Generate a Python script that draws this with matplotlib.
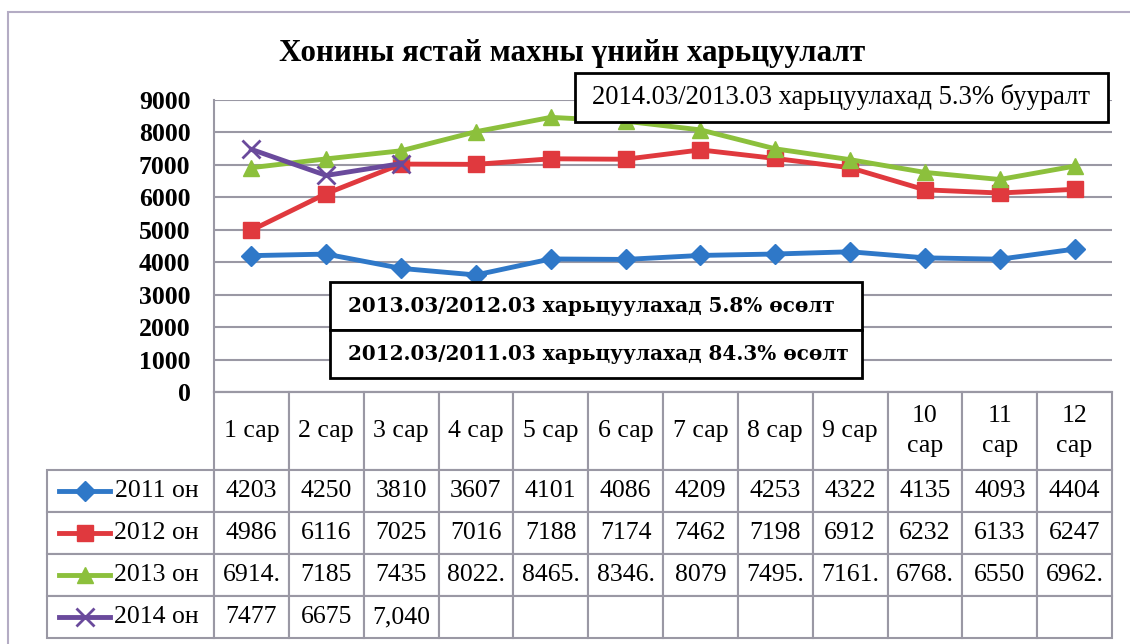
"""
plot.py

Line chart of mutton (bone-in) prices by month, with a data table below.
"""

import matplotlib
matplotlib.use("Agg")
import matplotlib.pyplot as plt
from matplotlib.table import Table
from matplotlib.patches import Rectangle

plt.rcParams['font.family'] = ['Liberation Serif', 'DejaVu Serif']

months = ["1 сар", "2 сар", "3 сар", "4 сар", "5 сар", "6 сар", "7 сар",
          "8 сар", "9 сар", "10\nсар", "11\nсар", "12\nсар"]
years = ["2011 он", "2012 он", "2013 он", "2014 он"]

price_2011 = [4203, 4250, 3810, 3607, 4101, 4086, 4209, 4253, 4322, 4135, 4093, 4404]
price_2012 = [4986, 6116, 7025, 7016, 7188, 7174, 7462, 7198, 6912, 6232, 6133, 6247]
price_2013 = [6914, 7185, 7435, 8022, 8465, 8346, 8079, 7495, 7161, 6768, 6550, 6962]
price_2014 = [7477, 6675, 7040]

# the table in the source shows the 2013 row cut off and 2014 m3 with a comma
table_2013 = ["6914.", "7185", "7435", "8022.", "8465.", "8346.", "8079",
              "7495.", "7161.", "6768.", "6550", "6962."]
table_2014 = ["7477", "6675", "7,040"]

notes = ["2014.03/2013.03 харьцуулахад 5.3% бууралт",
         "2013.03/2012.03 харьцуулахад 5.8% өсөлт",
         "2012.03/2011.03 харьцуулахад 84.3% өсөлт"]

colors = ["#2f78c8", "#e0393e", "#8cc03c", "#6a4a9c"]
markers = ["D", "s", "^", "x"]
msizes = [10, 12, 12, 13]
grid_col = "#9a98a4"

W, H = 1130, 644
fig = plt.figure(figsize=(W / 100, H / 100), dpi=100)


def fx(px):
    return px / W


def fy(py):
    return 1 - py / H


# plot area in pixels
left, right, top, bottom = 214, 1112, 100, 392
pw, ph = right - left, bottom - top
ax = fig.add_axes([fx(left), fy(bottom), fx(pw), fy(top) - fy(bottom)])

series = [price_2011, price_2012, price_2013, price_2014]
for vals, c, m, ms in zip(series, colors, markers, msizes):
    ax.plot(range(len(vals)), vals, color=c, lw=3.5, marker=m, ms=ms,
            mew=2 if m == "x" else 1, mec=c, mfc=c)

ax.set_xlim(-0.5, 11.5)
ax.set_ylim(0, 9000)
ax.set_yticks(range(0, 9001, 1000))
ax.set_xticks([])
ax.tick_params(axis='y', length=0, pad=17, labelsize=18.5)
for lab in ax.get_yticklabels():
    lab.set_fontweight('bold')
ax.yaxis.grid(True, color=grid_col, lw=1.5)
ax.set_axisbelow(True)
for s in ["top", "right"]:
    ax.spines[s].set_visible(False)
for s in ["left", "bottom"]:
    ax.spines[s].set_color(grid_col)
    ax.spines[s].set_linewidth(1.5)

# data table under the plot, aligned with the categories (axes units)
lab_w, col_w = 167 / pw, 1 / 12
head_h, row_h = 78 / ph, 42 / ph
tab_h = head_h + 4 * row_h
tbl = Table(ax, bbox=[0, -tab_h, 1, tab_h])

rows_text = [[str(v) for v in price_2011],
             [str(v) for v in price_2012],
             table_2013,
             table_2014 + [""] * 9]

for j, m in enumerate(months):
    c = tbl.add_cell(0, j, col_w, head_h, text=m, loc='center',
                     edgecolor=grid_col, facecolor='white')
    c.get_text().set_linespacing(1.45)
for i, (yr, txt) in enumerate(zip(years, rows_text)):
    c = tbl.add_cell(i + 1, -1, lab_w, row_h, text=yr, loc='right',
                     edgecolor=grid_col, facecolor='white')
    c.PAD = 0.09
    for j, t in enumerate(txt):
        tbl.add_cell(i + 1, j, col_w, row_h, text=t, loc='center',
                     edgecolor=grid_col, facecolor='white')
tbl.auto_set_font_size(False)
tbl.set_fontsize(18.5)
for cell in tbl.get_celld().values():
    cell.set_linewidth(1.5)
ax.add_table(tbl)

# legend keys drawn inside the row label cells
kx0, kx1 = (59 - left) / pw, (110 - left) / pw
for i, (c, m, ms) in enumerate(zip(colors, markers, msizes)):
    ky = -(head_h + row_h / 2 + i * row_h)
    ax.plot([kx0, kx1], [ky, ky], transform=ax.transAxes, clip_on=False,
            color=c, lw=3.5)
    ax.plot([(kx0 + kx1) / 2], [ky], transform=ax.transAxes, clip_on=False,
            color=c, marker=m, ms=ms, mew=2 if m == "x" else 1)

# outer chart frame
fig.add_artist(Rectangle((fx(8), fy(700)), fx(1200), fy(12) - fy(700),
                         fill=False, edgecolor="#b4acc4", lw=1.5))

fig.text(fx(572), fy(53), "Хонины ястай махны үнийн харьцуулалт",
         ha='center', va='center', fontsize=22.3, fontweight='bold')

# comment boxes
boxes = [(575, 73, 1108, 122), (330, 282, 862, 330), (330, 330, 862, 378)]
for k, (note, (x0, y0, x1, y1)) in enumerate(zip(notes, boxes)):
    fig.add_artist(Rectangle((fx(x0), fy(y1)), fx(x1 - x0), fy(y0) - fy(y1),
                             facecolor='white', edgecolor='black', lw=2))
    if k == 0:
        fig.text(fx((x0 + x1) / 2), fy((y0 + y1) / 2), note, ha='center',
                 va='center', fontsize=19.2)
    else:
        fig.text(fx(348), fy((y0 + y1) / 2), note, ha='left',
                 va='center', fontsize=14.4, family='DejaVu Serif',
                 fontweight='bold')

fig.savefig("out.png", dpi=100)
